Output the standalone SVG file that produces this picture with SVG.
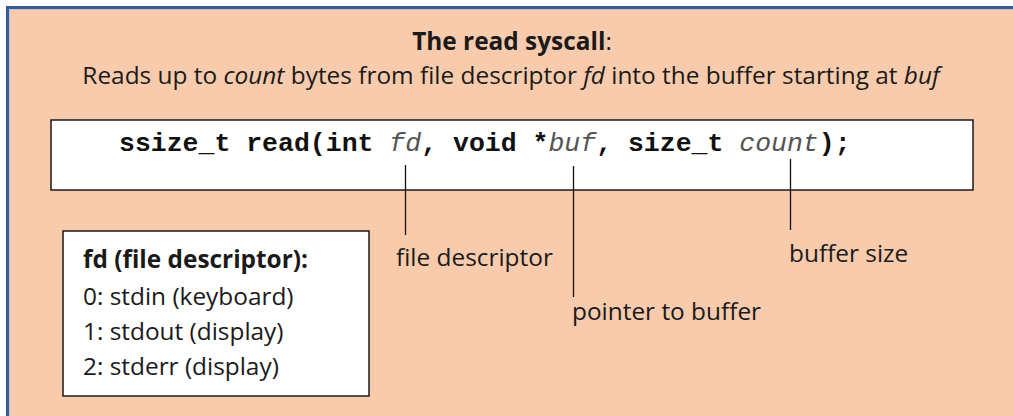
<svg xmlns="http://www.w3.org/2000/svg" width="1013" height="416" viewBox="0 0 1013 416">
  <style>
    .ui { font-family: "Open Sans", "Noto Sans", "Liberation Sans", sans-serif; font-size: 24.4px; fill: #1a1a1a; }
    .b { font-weight: bold; }
    .code { font-family: "Liberation Mono", "Courier New", monospace; font-size: 26.5px; font-weight: bold; fill: #111; }
    .arg { font-weight: normal; font-style: italic; fill: #555; }
    .box { fill: #ffffff; stroke: #1a1a1a; stroke-width: 1.5; }
    .lead { stroke: #111; stroke-width: 1.3; fill: none; }
  </style>

  <!-- panel background -->
  <g id="panel">
    <rect x="7.5" y="7.5" width="1020" height="420" fill="#f8cbad" stroke="#3a5b98" stroke-width="3"/>
    <path d="M9.5 420 V9.5 H1013" fill="none" stroke="#b9c4d8" stroke-width="1"/>
  </g>

  <!-- heading -->
  <g id="heading">
    <text class="ui" x="512" y="50" font-size="24" text-anchor="middle"><tspan class="b">The read syscall</tspan>:</text>
    <text class="ui" x="511" y="84" text-anchor="middle">Reads up to <tspan font-style="italic">count</tspan> bytes from file descriptor <tspan font-style="italic">fd</tspan> into the buffer starting at <tspan font-style="italic">buf</tspan></text>
  </g>

  <!-- prototype -->
  <g id="prototype">
    <rect class="box" x="51" y="120" width="922" height="70"/>
    <text class="code" x="119" y="151" xml:space="preserve">ssize_t read(int <tspan class="arg">fd</tspan>, void *<tspan class="arg">buf</tspan>, size_t <tspan class="arg">count</tspan>);</text>
  </g>

  <!-- leader lines -->
  <g id="connectors">
    <line class="lead" x1="405.5" y1="165" x2="405.5" y2="235"/>
    <line class="lead" x1="573.5" y1="166" x2="573.5" y2="297"/>
    <line class="lead" x1="790.5" y1="159" x2="790.5" y2="230"/>
  </g>

  <!-- argument labels -->
  <g id="label-fd">
    <text class="ui" x="396" y="266">file descriptor</text>
  </g>
  <g id="label-buf">
    <text class="ui" x="572" y="320">pointer to buffer</text>
  </g>
  <g id="label-count">
    <text class="ui" x="789" y="262">buffer size</text>
  </g>

  <!-- descriptor legend -->
  <g id="legend">
    <rect class="box" x="63" y="231" width="306" height="165"/>
    <text class="ui b" x="83" y="268">fd (file descriptor):</text>
    <text class="ui" x="83" y="305">0: stdin (keyboard)</text>
    <text class="ui" x="83" y="340">1: stdout (display)</text>
    <text class="ui" x="83" y="375">2: stderr (display)</text>
  </g>
</svg>
